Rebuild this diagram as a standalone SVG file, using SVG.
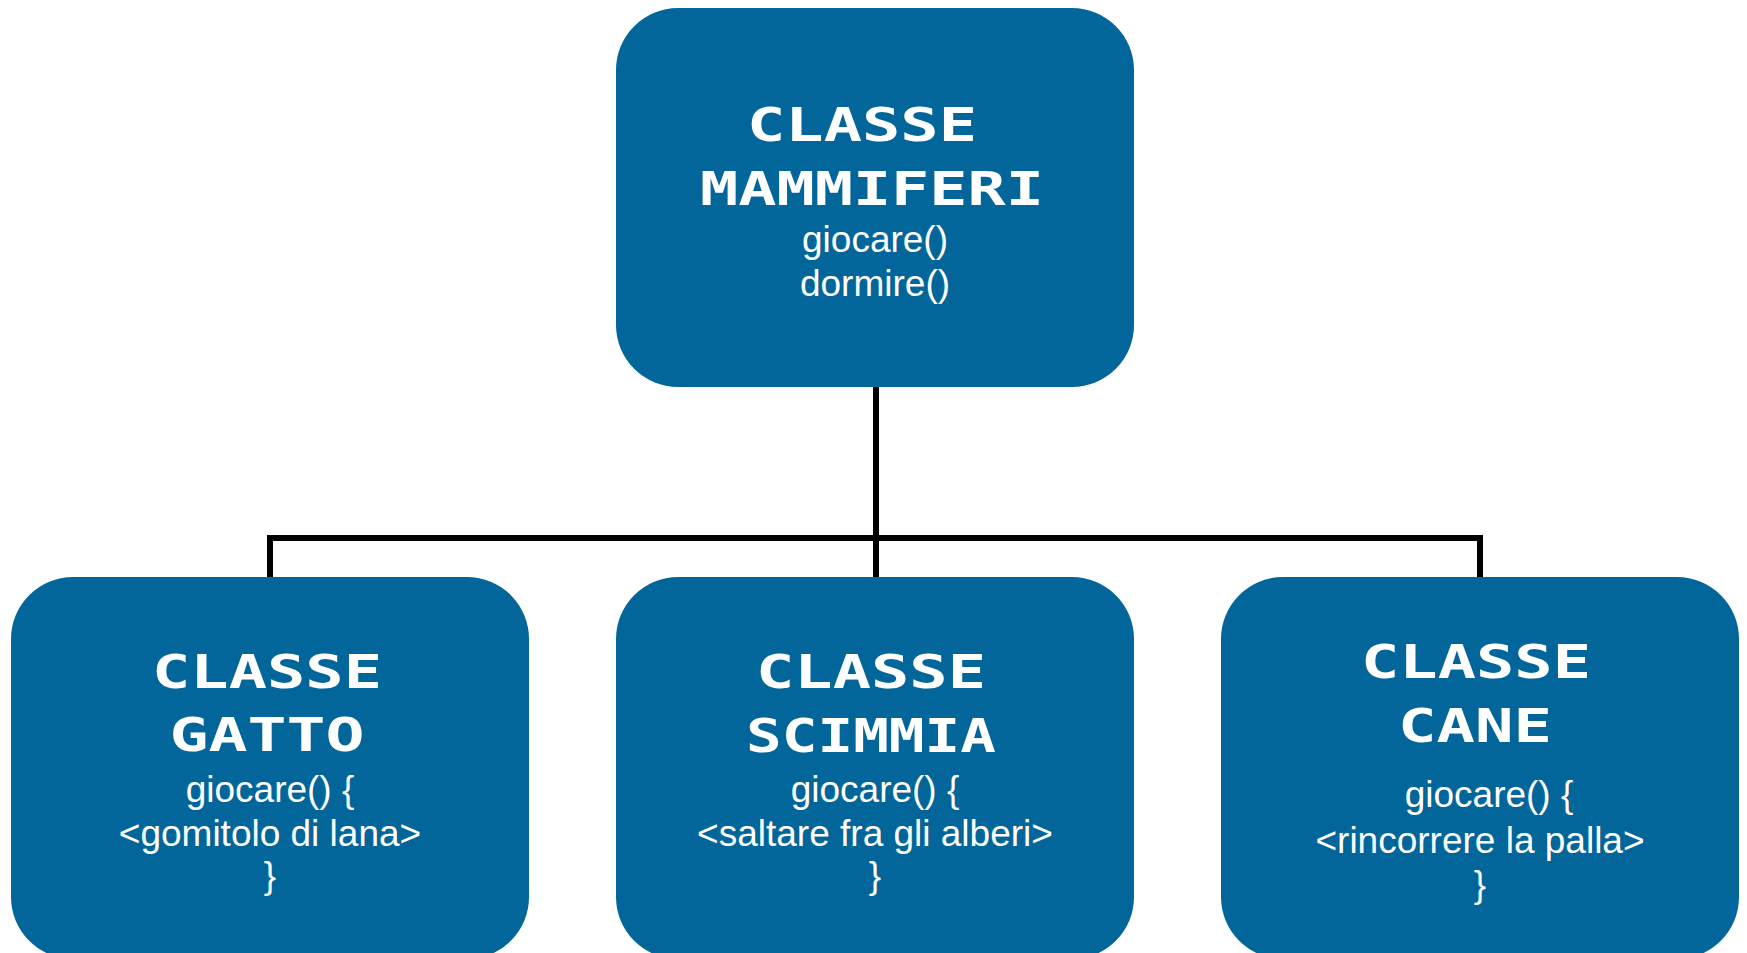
<svg xmlns="http://www.w3.org/2000/svg" width="1747" height="953" viewBox="0 0 1747 953">
<style>
.box{fill:#02669A;}
.title{font-family:"DejaVu Sans Mono","Liberation Mono",monospace;font-weight:bold;font-size:47px;fill:#fff;text-anchor:middle;}
.body{font-family:"Liberation Sans",Arial,sans-serif;font-size:37px;fill:#fff;text-anchor:middle;}
.conn{fill:none;stroke:#000;stroke-width:6;}
</style>
<rect width="1747" height="953" fill="#fff"/>
<g id="connectors">
<path class="conn" d="M876 387 V538"/>
<path class="conn" d="M270 577 V538 H1480 V577"/>
<path class="conn" d="M876 538 V577"/>
</g>
<g id="mammiferi">
<rect class="box" x="616" y="8" width="518" height="379" rx="62"/>
<text class="title" x="862" y="141" textLength="230" lengthAdjust="spacingAndGlyphs">CLASSE</text>
<text class="title" x="872" y="205" textLength="344" lengthAdjust="spacingAndGlyphs">MAMMIFERI</text>
<text class="body" x="875" y="252">giocare()</text>
<text class="body" x="875" y="296">dormire()</text>
</g>
<g id="gatto">
<rect class="box" x="11" y="577" width="518" height="382" rx="62"/>
<text class="title" x="267" y="688" textLength="230" lengthAdjust="spacingAndGlyphs">CLASSE</text>
<text class="title" x="267" y="751" textLength="195" lengthAdjust="spacingAndGlyphs">GATTO</text>
<text class="body" x="270" y="802">giocare() {</text>
<text class="body" x="270" y="846">&lt;gomitolo di lana&gt;</text>
<text class="body" x="270" y="888">}</text>
</g>
<g id="scimmia">
<rect class="box" x="616" y="577" width="518" height="382" rx="62"/>
<text class="title" x="871" y="688" textLength="230" lengthAdjust="spacingAndGlyphs">CLASSE</text>
<text class="title" x="871" y="752" textLength="250" lengthAdjust="spacingAndGlyphs">SCIMMIA</text>
<text class="body" x="875" y="802">giocare() {</text>
<text class="body" x="875" y="846">&lt;saltare fra gli alberi&gt;</text>
<text class="body" x="875" y="888">}</text>
</g>
<g id="cane">
<rect class="box" x="1221" y="577" width="518" height="382" rx="62"/>
<text class="title" x="1476" y="678" textLength="230" lengthAdjust="spacingAndGlyphs">CLASSE</text>
<text class="title" x="1475" y="742" textLength="154" lengthAdjust="spacingAndGlyphs">CANE</text>
<text class="body" x="1489" y="807">giocare() {</text>
<text class="body" x="1480" y="853">&lt;rincorrere la palla&gt;</text>
<text class="body" x="1480" y="897">}</text>
</g>
</svg>
